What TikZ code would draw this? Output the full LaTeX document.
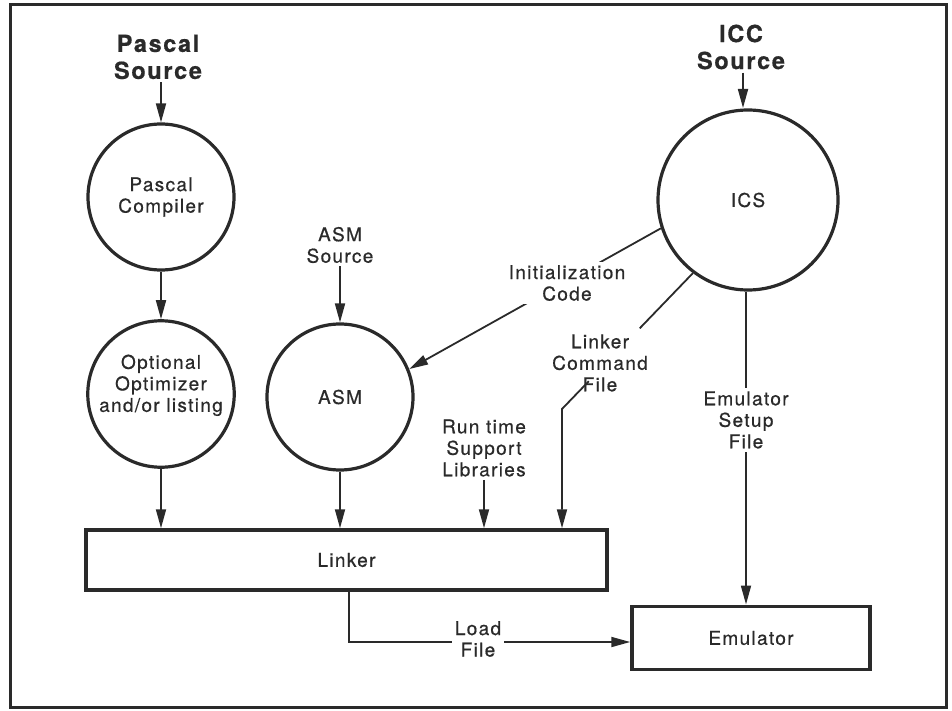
\documentclass[tikz,border=0pt]{standalone}
\usepackage{fontspec}
\setmainfont{TeX Gyre Heros}[LetterSpace=7, FakeBold=0.6]
\usetikzlibrary{arrows.meta, positioning}
\definecolor{inkline}{RGB}{42,42,42}
\newcommand{\lblfont}{\fontsize{19}{21.5}\selectfont}
\newcommand{\ttlfont}{\fontsize{23.5}{27}\selectfont\bfseries}
\tikzset{
  proccircle/.style={
    circle, draw=inkline, line width=3.2pt, text=inkline,
    minimum size=146pt, inner sep=0pt, align=center, font=\lblfont},
  procbox/.style={
    rectangle, draw=inkline, line width=3.5pt, text=inkline,
    align=center, font=\lblfont},
  srctitle/.style={align=center, font=\ttlfont, text=inkline,
    inner sep=3pt},
  flowlabel/.style={align=center, font=\lblfont, text=inkline,
    inner sep=3pt},
  arrow/.style={-{Triangle[length=19pt,width=10pt]}, line width=1.8pt,
                draw=inkline},
  plainline/.style={line width=1.8pt, draw=inkline}
}

\begin{document}
\begin{tikzpicture}[x=1pt, y=-1pt]
  \useasboundingbox (0,0) rectangle (952,711);
  \draw[line width=3pt, draw=inkline] (10,5) rectangle (946,707);

  %% Processes
  \node[proccircle] (pascalcomp) at (161,197) {Pascal\\Compiler};
  \node[proccircle] (optim) at (161,394)
    {Optional\\Optimizer\\and/or listing\\~};
  \node[proccircle] (asm) at (340,397) {ASM};
  \node[proccircle, minimum size=180pt] (ics) at (748,200) {ICS};

  %% Boxes
  \node[procbox, minimum width=521pt, minimum height=60pt]
    (linker) at (346.5,560) {Linker};
  \node[procbox, minimum width=238pt, minimum height=63pt]
    (emulator) at (751,638) {Emulator};

  %% Sources
  \node[srctitle] (pascalsrc) at (158,57) {Pascal\\Source};
  \node[srctitle] (iccsrc) at (741,47) {ICC\\Source};
  \node[flowlabel] (asmsrc) at (340,245) {ASM\\Source};
  \node[flowlabel] (rtlib) at (484,448) {Run time\\Support\\Libraries};
  \coordinate (cmdbend) at (562,409);

  %% Arrows: main flow
  \draw[arrow] (pascalsrc.south -| pascalcomp) -- (pascalcomp.north);
  \draw[arrow] (iccsrc.south -| 743,0) -- (743,108);
  \draw[arrow] (pascalcomp.south) -- (optim.north);
  \draw[arrow] (asmsrc.south -| asm) -- (asm.north);
  \draw[arrow] (optim.south) -- (optim.south |- linker.north);
  \draw[arrow] (asm.south) -- (asm.south |- linker.north);
  \draw[arrow] (rtlib.south) -- (rtlib.south |- linker.north);

  %% Arrows: from ICS
  \draw[arrow] (ics.198) -- (asm.22);
  \draw[plainline, shorten >=112pt] (ics.233) -- (cmdbend);
  \draw[arrow, shorten <=150pt] (ics.233) -- (cmdbend)
    -- (cmdbend |- linker.north);
  \draw[arrow] (ics.south -| 746,0) -- (746,604.5);
  \draw[arrow] ([xshift=2.5pt]linker.south)
    |- ([yshift=-4pt]emulator.west);

  %% Labels on connectors
  \node[flowlabel, fill=white] (initcode) at (567,283)
    {Initialization\\Code};
  \node[flowlabel] (lnkcmd) at (600,363) {Linker\\Command\\File};
  \node[flowlabel, fill=white] (emusetup) at (746,420)
    {Emulator\\Setup\\File};
  \node[flowlabel, fill=white] (loadfile) at (478,639) {Load\\File};

\end{tikzpicture}
\end{document}
